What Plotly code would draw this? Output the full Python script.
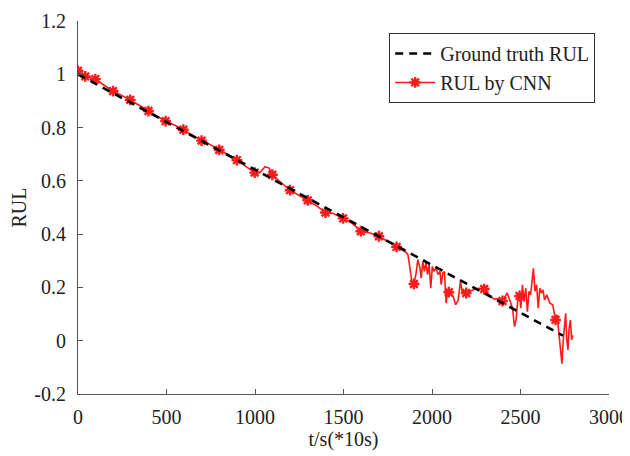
import plotly.graph_objects as go

# Ground-truth RUL (linear)
gt_t = [0, 2740]
gt_rul = [1.0, 0.019]

# RUL predicted by CNN
cnn_t = [0, 20, 41, 70, 98, 150, 198, 250, 295, 350, 398, 450, 495, 550, 595, 650, 698,
         750, 798, 850, 898, 950, 998, 1030, 1057, 1080, 1098, 1150, 1198, 1250, 1298,
         1350, 1398, 1440, 1498, 1550, 1598, 1650, 1700, 1750, 1800, 1852,
         1864, 1875, 1886, 1898, 1909, 1920, 1932, 1939, 1948, 1957, 1966, 1975, 1984,
         1993, 2002, 2011, 2023, 2034, 2045, 2052, 2061, 2070, 2080, 2089, 2095, 2107,
         2120, 2134, 2148, 2161, 2170, 2184, 2193, 2216, 2239, 2261, 2284, 2295, 2307,
         2330, 2352, 2375, 2398, 2416, 2425, 2439, 2455, 2466, 2475, 2484, 2495, 2502,
         2511, 2520, 2530, 2539, 2548, 2557, 2566, 2573, 2582, 2591, 2600, 2609, 2618,
         2627, 2636, 2648, 2666, 2682, 2698, 2707, 2716, 2725, 2734, 2741, 2748, 2755,
         2761, 2768, 2775, 2782, 2789, 2795]
cnn_rul = [1.013, 1.000, 0.992, 0.988, 0.982, 0.958, 0.937, 0.920, 0.904, 0.882, 0.862,
           0.842, 0.824, 0.808, 0.792, 0.770, 0.751, 0.735, 0.716, 0.698, 0.678, 0.652,
           0.631, 0.633, 0.653, 0.648, 0.623, 0.592, 0.565, 0.545, 0.527, 0.505, 0.481,
           0.478, 0.459, 0.440, 0.411, 0.404, 0.392, 0.372, 0.352, 0.333,
           0.323, 0.273, 0.225, 0.213, 0.248, 0.304, 0.273, 0.235, 0.298, 0.260, 0.292,
           0.248, 0.286, 0.197, 0.279, 0.260, 0.273, 0.248, 0.260, 0.210, 0.254, 0.260,
           0.141, 0.191, 0.182, 0.172, 0.166, 0.135, 0.153, 0.223, 0.185, 0.185, 0.179,
           0.187, 0.191, 0.197, 0.195, 0.194, 0.185, 0.166, 0.156, 0.157, 0.149, 0.172,
           0.179, 0.153, 0.122, 0.053, 0.078, 0.147, 0.168, 0.122, 0.210, 0.147, 0.197,
           0.109, 0.185, 0.172, 0.235, 0.272, 0.185, 0.210, 0.122, 0.197, 0.179, 0.191,
           0.153, 0.172, 0.141, 0.135, 0.078, 0.097, 0.034, -0.029, -0.086, -0.004, 0.072,
           0.103, 0.009, -0.035, 0.047, 0.078, 0.003, 0.021]

# samples carrying a '*' marker
marker_t = [0, 41, 98, 198, 295, 398, 495, 595, 698, 798, 898, 998, 1098, 1198, 1298,
            1398, 1498, 1598, 1700, 1800, 1898, 2095, 2193, 2295, 2398, 2495, 2698]

x_ticks = [0, 500, 1000, 1500, 2000, 2500, 3000]
y_ticks = [-0.2, 0, 0.2, 0.4, 0.6, 0.8, 1.0, 1.2]
y_tick_text = ["-0.2", "0", "0.2", "0.4", "0.6", "0.8", "1", "1.2"]

RED = "#ff1a1a"
FONT = "Liberation Serif"

mk = set(marker_t)
mx = [t for t in cnn_t if t in mk]
my = [r for t, r in zip(cnn_t, cnn_rul) if t in mk]

fig = go.Figure()
fig.add_trace(go.Scatter(x=cnn_t, y=cnn_rul, mode="lines", line=dict(color=RED, width=1.6),
                         showlegend=False, hoverinfo="skip"))
fig.add_trace(go.Scatter(x=mx, y=my, mode="markers", showlegend=False,
                         marker=dict(symbol="asterisk", size=9, color=RED,
                                     line=dict(color=RED, width=2.4))))
fig.add_trace(go.Scatter(x=gt_t, y=gt_rul, mode="lines", name="Ground truth RUL",
                         line=dict(color="black", width=2.6, dash="8px,6px")))
fig.add_trace(go.Scatter(x=[None], y=[None], mode="lines+markers", name="RUL by CNN",
                         line=dict(color=RED, width=1.6),
                         marker=dict(symbol="asterisk", size=9, color=RED,
                                     line=dict(color=RED, width=2.4))))

axis_common = dict(showline=True, linecolor="#555", linewidth=1, ticks="inside",
                   ticklen=5, tickcolor="#555", showgrid=False, zeroline=False,
                   mirror=False, automargin=False,
                   tickfont=dict(family=FONT, size=20, color="#222"))

# page body has an 8px default margin: offsets below compensate for it
fig.update_layout(
    width=630, height=456,
    margin=dict(l=70, r=29, t=13, b=70),
    paper_bgcolor="white", plot_bgcolor="white",
    font=dict(family=FONT, size=20, color="#222"),
    xaxis=dict(range=[0, 3000], tickvals=x_ticks, ticklabelstandoff=5, **axis_common,
               title=dict(text="t/s(*10s)", font=dict(family=FONT, size=20, color="#222"),
                          standoff=4)),
    yaxis=dict(range=[-0.2, 1.2], tickvals=y_ticks, ticktext=y_tick_text,
               ticklabelstandoff=7, **axis_common,
               title=dict(text="RUL", font=dict(family=FONT, size=20, color="#222"),
                          standoff=10)),
    legend=dict(x=0.974, y=0.968, xanchor="right", yanchor="top",
                bgcolor="white", bordercolor="#333", borderwidth=1,
                font=dict(family=FONT, size=20, color="#222"),
                tracegroupgap=0, itemwidth=40),
)

fig.write_html("out.html")
